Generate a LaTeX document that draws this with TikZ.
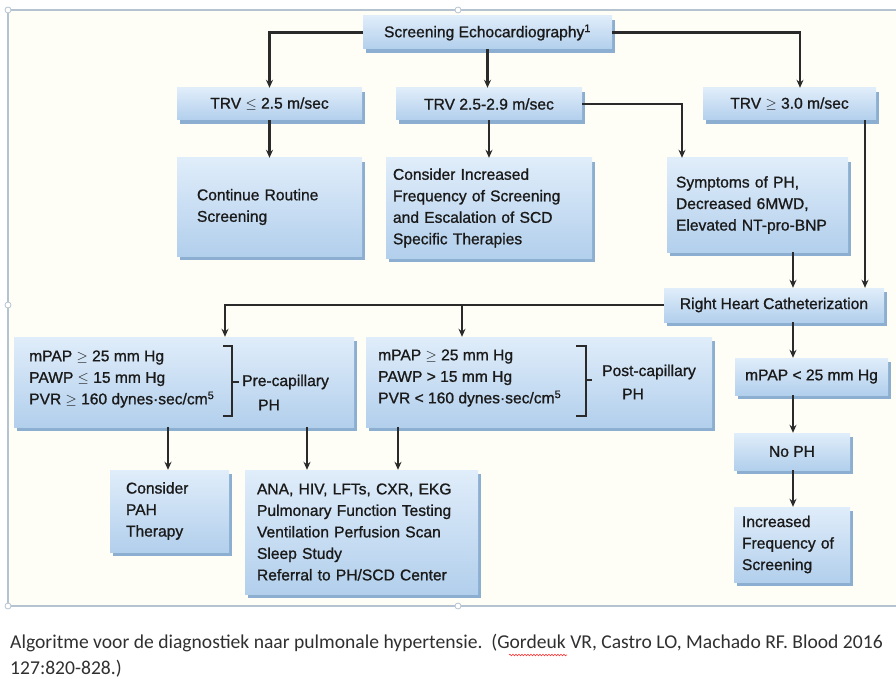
\documentclass[tikz,border=0pt]{standalone}
\usepackage{fontspec}
\setmainfont{Liberation Sans}
\newfontfamily\boxfont{Liberation Sans}[FakeBold=1.0]
\newfontfamily\capfont{Carlito}
\usetikzlibrary{shadows,arrows.meta,calc,decorations.pathmorphing}
\definecolor{boxtop}{HTML}{E0EDFA}
\definecolor{boxbot}{HTML}{B2CFEC}
\definecolor{shadowc}{HTML}{7FA6CE}
\definecolor{linec}{HTML}{2A2A2A}
\definecolor{framec}{HTML}{B5C3D1}
\definecolor{txtc}{HTML}{1A1A1A}
\definecolor{captxt}{HTML}{303030}
\definecolor{cream}{HTML}{FFFEF6}
\begin{document}
\begin{tikzpicture}[x=1pt,y=-1pt,
  box/.style={draw=none, top color=boxtop, bottom color=boxbot,
    drop shadow={shadow xshift=3pt, shadow yshift=-4pt, fill=shadowc, opacity=0.9},
    text=txtc, font=\boxfont\fontsize{15.6}{21.5}\selectfont, inner sep=0pt},
  lbl/.style={text=txtc, font=\boxfont\fontsize{15.6}{21.5}\selectfont, inner sep=0pt, align=left},
  arr/.style={draw=linec, line width=2.2pt, -{Stealth[length=8pt,width=7pt]}},
  brk/.style={draw=linec, line width=1.6pt},
  captext/.style={text=captxt, font=\capfont\fontsize{19.6}{24}\selectfont, inner sep=0pt, anchor=west}]
\path[use as bounding box] (0,0) rectangle (896,679);
\fill[white] (0,0) rectangle (896,679);
\fill[cream] (8,10) rectangle (896,606);
% frame
\draw[framec, line width=1.2pt] (896,10) -- (8,10) -- (8,606) -- (896,606);
\foreach \p in {(8,10),(458,10),(8,305),(8,606),(458,606)}
  \draw[framec, fill=white, line width=0.8pt] \p circle (3);

% boxes
\node[box, minimum width=249pt, minimum height=33pt] (scr) at (487.5,32.5) {Screening Echocardiography\textsuperscript{1}};
\node[box, minimum width=185pt, minimum height=32pt] (trv1) at (269.5,104) {TRV $\leq$ 2.5 m/sec};
\node[box, minimum width=186pt, minimum height=32pt] (trv2) at (489,104) {TRV 2.5-2.9 m/sec};
\node[box, minimum width=173pt, minimum height=32pt] (trv3) at (789.5,104) {TRV $\geq$ 3.0 m/sec};
\node[box, minimum height=98pt, inner xsep=20pt, text width=145pt, align=left] (cont) at (269.5,207) {Continue Routine\\Screening};
\node[box, minimum height=100pt, inner xsep=7pt, text width=192pt, align=left] (cons) at (489,208) {Consider Increased\\Frequency of Screening\\and Escalation of SCD\\Specific Therapies};
\node[box, minimum height=94pt, inner xsep=9pt, text width=163pt, align=left] (sym) at (757.5,205) {Symptoms of PH,\\Decreased 6MWD,\\Elevated NT-pro-BNP};
\node[box, minimum width=220pt, minimum height=34pt] (rhc) at (774,305) {Right Heart Catheterization};
\node[box, minimum width=340pt, minimum height=90pt] (pre) at (184,382) {};
\node[box, minimum width=346pt, minimum height=90pt] (post) at (539,382) {};
\node[box, minimum width=153pt, minimum height=37pt] (mpap) at (811.5,376.5) {mPAP < 25 mm Hg};
\node[box, minimum width=116pt, minimum height=37pt] (noph) at (792,451.5) {No PH};
\node[box, minimum height=75pt, inner xsep=8pt, text width=100pt, align=left] (incf) at (792,544.5) {Increased\\Frequency of\\Screening};
\node[box, minimum height=82pt, inner xsep=16pt, text width=87pt, align=left] (pah) at (169.5,511) {Consider\\PAH\\Therapy};
\node[box, minimum height=124pt, inner xsep=12pt, text width=209pt, align=left] (ana) at (361.5,532) {ANA, HIV, LFTs, CXR, EKG\\Pulmonary Function Testing\\Ventilation Perfusion Scan\\Sleep Study\\Referral to PH/SCD Center};

% contents of the PH boxes
\node[lbl, anchor=west] (pretxt) at (29,379) {mPAP $\geq$ 25 mm Hg\\PAWP $\leq$ 15 mm Hg\\PVR $\geq$ 160 dynes·sec/cm\textsuperscript{5}};
\draw[brk] (223,346) -- (232,346) -- (232,416) -- (223,416);
\draw[brk] (232,382) -- (239,382);
\node[lbl, anchor=west] (prelbl) at (242,382) {Pre-capillary};
\node[lbl, anchor=west] (preph) at (258,405) {PH};

\node[lbl, anchor=west] (posttxt) at (378,378) {mPAP $\geq$ 25 mm Hg\\PAWP > 15 mm Hg\\PVR < 160 dynes·sec/cm\textsuperscript{5}};
\draw[brk] (576,346) -- (586,346) -- (586,416) -- (576,416);
\draw[brk] (586,380) -- (592,380);
\node[lbl, anchor=west] (postlbl) at (602,372) {Post-capillary};
\node[lbl, anchor=west] (postph) at (622,394) {PH};

% connectors
\coordinate (c3) at (800,0);
\coordinate (c4) at (682,0);
\coordinate (c5) at (865,0);
\coordinate (c6) at (793,0);
\coordinate (c7) at (225,0);
\coordinate (c8) at (462,0);
\coordinate (c9) at (168,0);
\coordinate (c10) at (307,0);
\coordinate (c11) at (398,0);
\draw[arr] (scr.west) -| (trv1.north);
\draw[arr] (scr.east) -| (c3 |- trv3.north);
\draw[arr] (scr.south) -- (scr.south |- trv2.north);
\draw[arr] (trv1.south) -- (cont.north);
\draw[arr] (trv2.south) -- (trv2.south |- cons.north);
\draw[arr] (trv2.east) -| (c4 |- sym.north);
\draw[arr] (c5 |- trv3.south) -- (c5 |- rhc.north);
\draw[arr] (c6 |- sym.south) -- (c6 |- rhc.north);
\draw[arr] (rhc.west) -| (c7 |- pre.north);
\draw[arr] (c8 |- rhc.west) -- (c8 |- post.north);
\draw[arr] (c6 |- rhc.south) -- (c6 |- mpap.north);
\draw[arr] (c6 |- mpap.south) -- (c6 |- noph.north);
\draw[arr] (c6 |- noph.south) -- (c6 |- incf.north);
\draw[arr] (c9 |- pre.south) -- (c9 |- pah.north);
\draw[arr] (c10 |- pre.south) -- (c10 |- ana.north);
\draw[arr] (c11 |- post.south) -- (c11 |- ana.north);

% caption
\node[captext] (cap1) at (10,643) {Algoritme voor de diagnostiek naar pulmonale hypertensie.\ \ (Gordeuk VR, Castro LO, Machado RF. Blood 2016};
\node[captext] (cap2) at (10,669) {127:820-828.)};
\draw[red!80, line width=0.6pt, decorate, decoration={snake, amplitude=0.8pt, segment length=3pt}] (509,655) -- (567,655);
\end{tikzpicture}
\end{document}
